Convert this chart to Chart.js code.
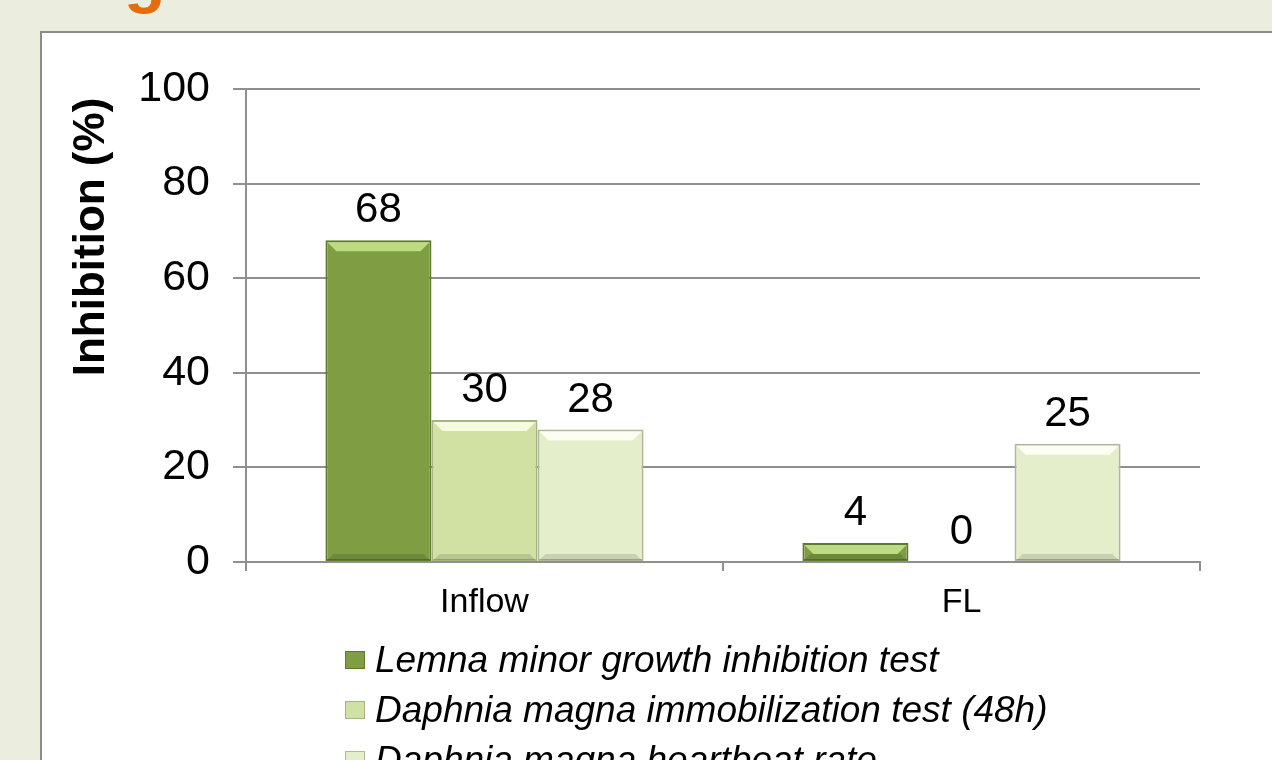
<!DOCTYPE html>
<html lang="en">
<head>
  <meta charset="UTF-8">
  <title>Inhibition (%)</title>
  <script src="https://cdn.jsdelivr.net/npm/chart.js"></script>
  <style>
    body {
      margin: 0;
      width: 1272px;
      height: 760px;
      overflow: hidden;
      position: relative;
      background: #ebeedf;
      font-family: "Liberation Sans", Arial, sans-serif;
    }
    .heading {
      position: absolute;
      left: 124px;
      top: -58px;
      font: bold 68px "Liberation Sans", Arial, sans-serif;
      line-height: 68px;
      color: #e46c0a;
    }
    .panel {
      position: absolute;
      left: 40px;
      top: 31px;
      width: 1300px;
      height: 800px;
      box-sizing: border-box;
      background: #fff;
      border: 2px solid #8c8c8c;
    }
    #chart {
      position: absolute;
      left: 0;
      top: 0;
    }
    .legend {
      position: absolute;
      left: 345px;
      top: 635px;
    }
    .legend-item {
      height: 50px;
      display: flex;
      align-items: center;
      font-style: italic;
      font-size: 37px;
      color: #000;
      white-space: nowrap;
    }
    .legend-box {
      width: 20px;
      height: 18px;
      margin-right: 10px;
      box-sizing: border-box;
      border: 1px solid;
    }
  </style>
</head>
<body>
  <div class="heading">g</div>
  <div class="panel"></div>
  <canvas id="chart" width="1272" height="640"></canvas>
  <div class="legend" id="legend"></div>

  <script>
    const categories = ['Inflow', 'FL'];
    const seriesNames = [
      'Lemna minor growth inhibition test',
      'Daphnia magna immobilization test (48h)',
      'Daphnia magna heartbeat rate'
    ];
    const lemnaValues = [68, 4];
    const immobilizationValues = [30, 0];
    const heartbeatValues = [28, 25];
    const yTicks = [0, 20, 40, 60, 80, 100];

    const fills = ['#7f9d43', '#d1e1a3', '#e4eecb'];
    const edges = ['#5d7a2e', '#a6b485', '#b0b899'];
    const shines = ['rgba(200,230,140,0.85)', 'rgba(250,253,230,0.9)', 'rgba(255,255,245,0.9)'];

    Chart.defaults.font.family = '"Liberation Sans", Arial, sans-serif';
    Chart.defaults.color = '#000';

    // light bevel on top of each bar, darker rim at the bottom
    const bevel = {
      id: 'bevel',
      afterDatasetDraw(chart, args) {
        const ctx = chart.ctx;
        const i = args.index;
        ctx.save();
        args.meta.data.forEach(bar => {
          const { x, y, base, width } = bar.getProps(['x', 'y', 'base', 'width'], true);
          const h = base - y;
          if (h <= 1) return;
          const l = x - width / 2 + 2, r = x + width / 2 - 2;
          const d = Math.min(9, h / 2);
          ctx.fillStyle = shines[i];
          ctx.beginPath();
          ctx.moveTo(l, y + 2);
          ctx.lineTo(r, y + 2);
          ctx.lineTo(r - d, y + 2 + d);
          ctx.lineTo(l + d, y + 2 + d);
          ctx.closePath();
          ctx.fill();
          const e = Math.min(6, h / 3);
          ctx.fillStyle = 'rgba(0,0,0,0.12)';
          ctx.beginPath();
          ctx.moveTo(l, base - 1);
          ctx.lineTo(r, base - 1);
          ctx.lineTo(r - e, base - 1 - e);
          ctx.lineTo(l + e, base - 1 - e);
          ctx.closePath();
          ctx.fill();
        });
        ctx.restore();
      }
    };

    const valueLabels = {
      id: 'valueLabels',
      afterDatasetsDraw(chart) {
        const ctx = chart.ctx;
        ctx.save();
        ctx.font = '42px "Liberation Sans", Arial, sans-serif';
        ctx.fillStyle = '#000';
        ctx.textAlign = 'center';
        ctx.textBaseline = 'alphabetic';
        chart.data.datasets.forEach((ds, i) => {
          chart.getDatasetMeta(i).data.forEach((bar, j) => {
            ctx.fillText(ds.data[j], bar.x, bar.y - 18);
          });
        });
        ctx.restore();
      }
    };

    const yTitle = {
      id: 'yTitle',
      afterDraw(chart) {
        const ctx = chart.ctx;
        ctx.save();
        ctx.translate(92, 237);
        ctx.rotate(-Math.PI / 2);
        ctx.font = 'bold 44px "Liberation Sans", Arial, sans-serif';
        ctx.fillStyle = '#000';
        ctx.textAlign = 'center';
        ctx.textBaseline = 'middle';
        ctx.fillText('Inhibition (%)', 0, 0);
        ctx.restore();
      }
    };

    const allValues = [lemnaValues, immobilizationValues, heartbeatValues];

    new Chart(document.getElementById('chart'), {
      type: 'bar',
      data: {
        labels: categories,
        datasets: allValues.map((vals, i) => ({
          label: seriesNames[i],
          data: vals,
          backgroundColor: fills[i],
          borderColor: edges[i],
          borderWidth: 2,
          borderSkipped: false,
          categoryPercentage: 0.667,
          barPercentage: 1.0
        }))
      },
      options: {
        responsive: false,
        animation: false,
        layout: { padding: { left: 0, right: 72, top: 89, bottom: 0 } },
        plugins: {
          legend: { display: false },
          tooltip: { enabled: false }
        },
        scales: {
          x: {
            grid: { drawOnChartArea: false, offset: true, tickLength: 9, color: '#8f8f8f', lineWidth: 2 },
            border: { color: '#8f8f8f', width: 2 },
            ticks: { font: { size: 34 }, color: '#000', padding: 11 },
            afterFit(s) { s.height = 78; }
          },
          y: {
            min: 0,
            max: 100,
            afterBuildTicks(s) { s.ticks = yTicks.map(v => ({ value: v })); },
            ticks: { font: { size: 43 }, color: '#000', padding: 23 },
            grid: { color: '#8f8f8f', lineWidth: 2, tickLength: 13 },
            border: { color: '#8f8f8f', width: 2 },
            afterFit(s) { s.width = 246; }
          }
        }
      },
      plugins: [bevel, valueLabels, yTitle]
    });

    const legend = document.getElementById('legend');
    seriesNames.forEach((name, i) => {
      const item = document.createElement('div');
      item.className = 'legend-item';
      const box = document.createElement('span');
      box.className = 'legend-box';
      box.style.background = fills[i];
      box.style.borderColor = edges[i];
      item.appendChild(box);
      item.appendChild(document.createTextNode(name));
      legend.appendChild(item);
    });
  </script>
</body>
</html>
